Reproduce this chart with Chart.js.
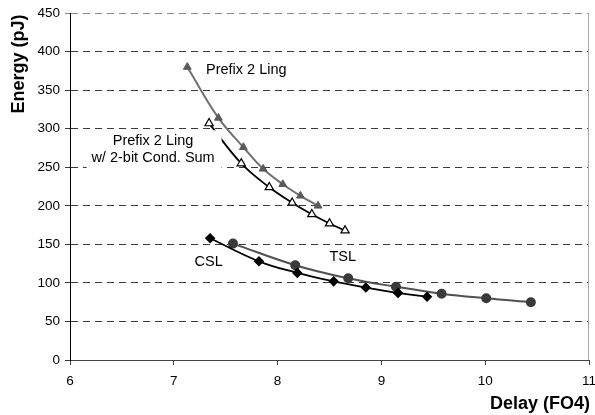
<!DOCTYPE html>
<html>
<head>
<meta charset="utf-8">
<script src="https://cdn.jsdelivr.net/npm/chart.js@4.4.1/dist/chart.umd.min.js"></script>
<style>
  html, body { margin: 0; padding: 0; background: #fff; }
  canvas { display: block; }
</style>
</head>
<body>
<canvas id="myChart" width="595" height="415"></canvas>
<script>
// axis ticks
const delayTicks = [6, 7, 8, 9, 10, 11];
const energyTicks = [0, 50, 100, 150, 200, 250, 300, 350, 400, 450];

// Prefix 2 Ling
const prefixDelay = [7.13, 7.43, 7.67, 7.86, 8.05, 8.22, 8.39];
const prefixEnergy = [380, 314, 276, 248, 228, 213, 200];

// Prefix 2 Ling w/ 2-bit Cond. Sum
const condSumDelay = [7.34, 7.65, 7.92, 8.14, 8.33, 8.50, 8.65];
const condSumEnergy = [307, 255, 224, 204, 189, 177, 168];

// CSL
const cslDelay = [7.35, 7.82, 8.19, 8.54, 8.85, 9.16, 9.44];
const cslEnergy = [158, 128, 113, 102, 94, 87, 82];

// TSL
const tslDelay = [7.57, 8.17, 8.68, 9.14, 9.58, 10.01, 10.44];
const tslEnergy = [151, 123, 106, 95, 86, 80, 75];

// text placed inside the plot (data units)
const notes = [
  { text: "Prefix 2 Ling", x: 7.31, y: 376, align: "left" },
  { text: "Prefix 2 Ling", x: 6.80, y: 284, align: "center" },
  { text: "w/ 2-bit Cond. Sum", x: 6.80, y: 262, align: "center" },
  { text: "CSL", x: 7.20, y: 127, align: "left" },
  { text: "TSL", x: 8.50, y: 134, align: "left" },
];
// white text box behind the Cond. Sum label
const noteBox = { x0: 6.16, x1: 7.46, y0: 298, y1: 248.5 };

const FONT = "'Liberation Sans', Arial, sans-serif";

function pts(xs, ys) {
  return xs.map((x, i) => ({ x: x, y: ys[i] }));
}

const textPlugin = {
  id: "plotText",
  afterDatasetsDraw(chart) {
    const { ctx, chartArea, scales } = chart;
    const sx = scales.x, sy = scales.y;
    ctx.save();
    // text box
    ctx.fillStyle = "#fff";
    const bx = sx.getPixelForValue(noteBox.x0);
    const by = sy.getPixelForValue(noteBox.y0);
    ctx.fillRect(bx, by, sx.getPixelForValue(noteBox.x1) - bx, sy.getPixelForValue(noteBox.y1) - by);
    // labels
    ctx.fillStyle = "#000";
    ctx.font = "14.5px " + FONT;
    ctx.textBaseline = "middle";
    notes.forEach(n => {
      ctx.textAlign = n.align;
      ctx.fillText(n.text, sx.getPixelForValue(n.x), sy.getPixelForValue(n.y));
    });
    // right frame line
    ctx.strokeStyle = "#aaa";
    ctx.lineWidth = 1;
    ctx.beginPath();
    ctx.moveTo(Math.round(chartArea.right) - 0.5, chartArea.top);
    ctx.lineTo(Math.round(chartArea.right) - 0.5, chartArea.bottom);
    ctx.stroke();
    ctx.restore();
  },
  afterDraw(chart) {
    const { ctx } = chart;
    ctx.save();
    ctx.fillStyle = "#000";
    ctx.font = "bold 18px " + FONT;
    ctx.textBaseline = "middle";
    // x title
    ctx.textAlign = "right";
    ctx.fillText("Delay (FO4)", 590, 404);
    // y title
    ctx.translate(19, 64);
    ctx.rotate(-Math.PI / 2);
    ctx.textAlign = "center";
    ctx.fillText("Energy (pJ)", 0, 0);
    ctx.restore();
  },
};

const ctx = document.getElementById("myChart");
new Chart(ctx, {
  type: "line",
  data: {
    datasets: [
      {
        label: "Prefix 2 Ling",
        data: pts(prefixDelay, prefixEnergy),
        borderColor: "#707070",
        borderWidth: 2,
        pointStyle: "triangle",
        pointRadius: 4.5,
        pointBackgroundColor: "#5a5a5a",
        pointBorderColor: "#5a5a5a",
        pointBorderWidth: 1,
        tension: 0.4,
      },
      {
        label: "Prefix 2 Ling w/ 2-bit Cond. Sum",
        data: pts(condSumDelay, condSumEnergy),
        borderColor: "#000",
        borderWidth: 1.8,
        pointStyle: "triangle",
        pointRadius: 4.8,
        pointBackgroundColor: "#fff",
        pointBorderColor: "#000",
        pointBorderWidth: 1.2,
        tension: 0.4,
      },
      {
        label: "CSL",
        data: pts(cslDelay, cslEnergy),
        borderColor: "#000",
        borderWidth: 1.8,
        pointStyle: "rectRot",
        pointRadius: 4,
        pointBackgroundColor: "#000",
        pointBorderColor: "#000",
        tension: 0.4,
      },
      {
        label: "TSL",
        data: pts(tslDelay, tslEnergy),
        borderColor: "#505050",
        borderWidth: 2,
        pointStyle: "circle",
        pointRadius: 4,
        pointBackgroundColor: "#3a3a3a",
        pointBorderColor: "#3a3a3a",
        tension: 0.4,
      },
    ],
  },
  options: {
    responsive: false,
    animation: false,
    layout: { padding: { left: 0, right: 5, top: 12, bottom: 0 } },
    scales: {
      x: {
        type: "linear",
        min: 6,
        max: 11,
        afterBuildTicks: s => { s.ticks = delayTicks.map(v => ({ value: v })); },
        afterFit: s => { s.height = 55; s.paddingLeft = 0; s.paddingRight = 0; },
        grid: {
          drawOnChartArea: false, // no vertical grid lines
          tickLength: 5,
          color: "#444",
        },
        border: { color: "#444", width: 1 },
        ticks: {
          color: "#000",
          padding: 8,
          font: { family: FONT, size: 13.5 },
        },
      },
      y: {
        min: 0,
        max: 450,
        afterBuildTicks: s => { s.ticks = energyTicks.map(v => ({ value: v })); },
        afterFit: s => { s.width = 70; },
        grid: {
          tickLength: 5,
          color: c => (c.tick && c.tick.value === 450 ? "#8a8a8a" : "#3a3a3a"),
        },
        border: { color: "#000", width: 1, dash: [7, 5] }, // dash applies to the grid lines
        ticks: {
          color: "#000",
          padding: 5,
          font: { family: FONT, size: 13.5 },
        },
      },
    },
    plugins: {
      legend: { display: false },
      tooltip: { enabled: false },
    },
  },
  plugins: [textPlugin],
});
</script>
</body>
</html>
